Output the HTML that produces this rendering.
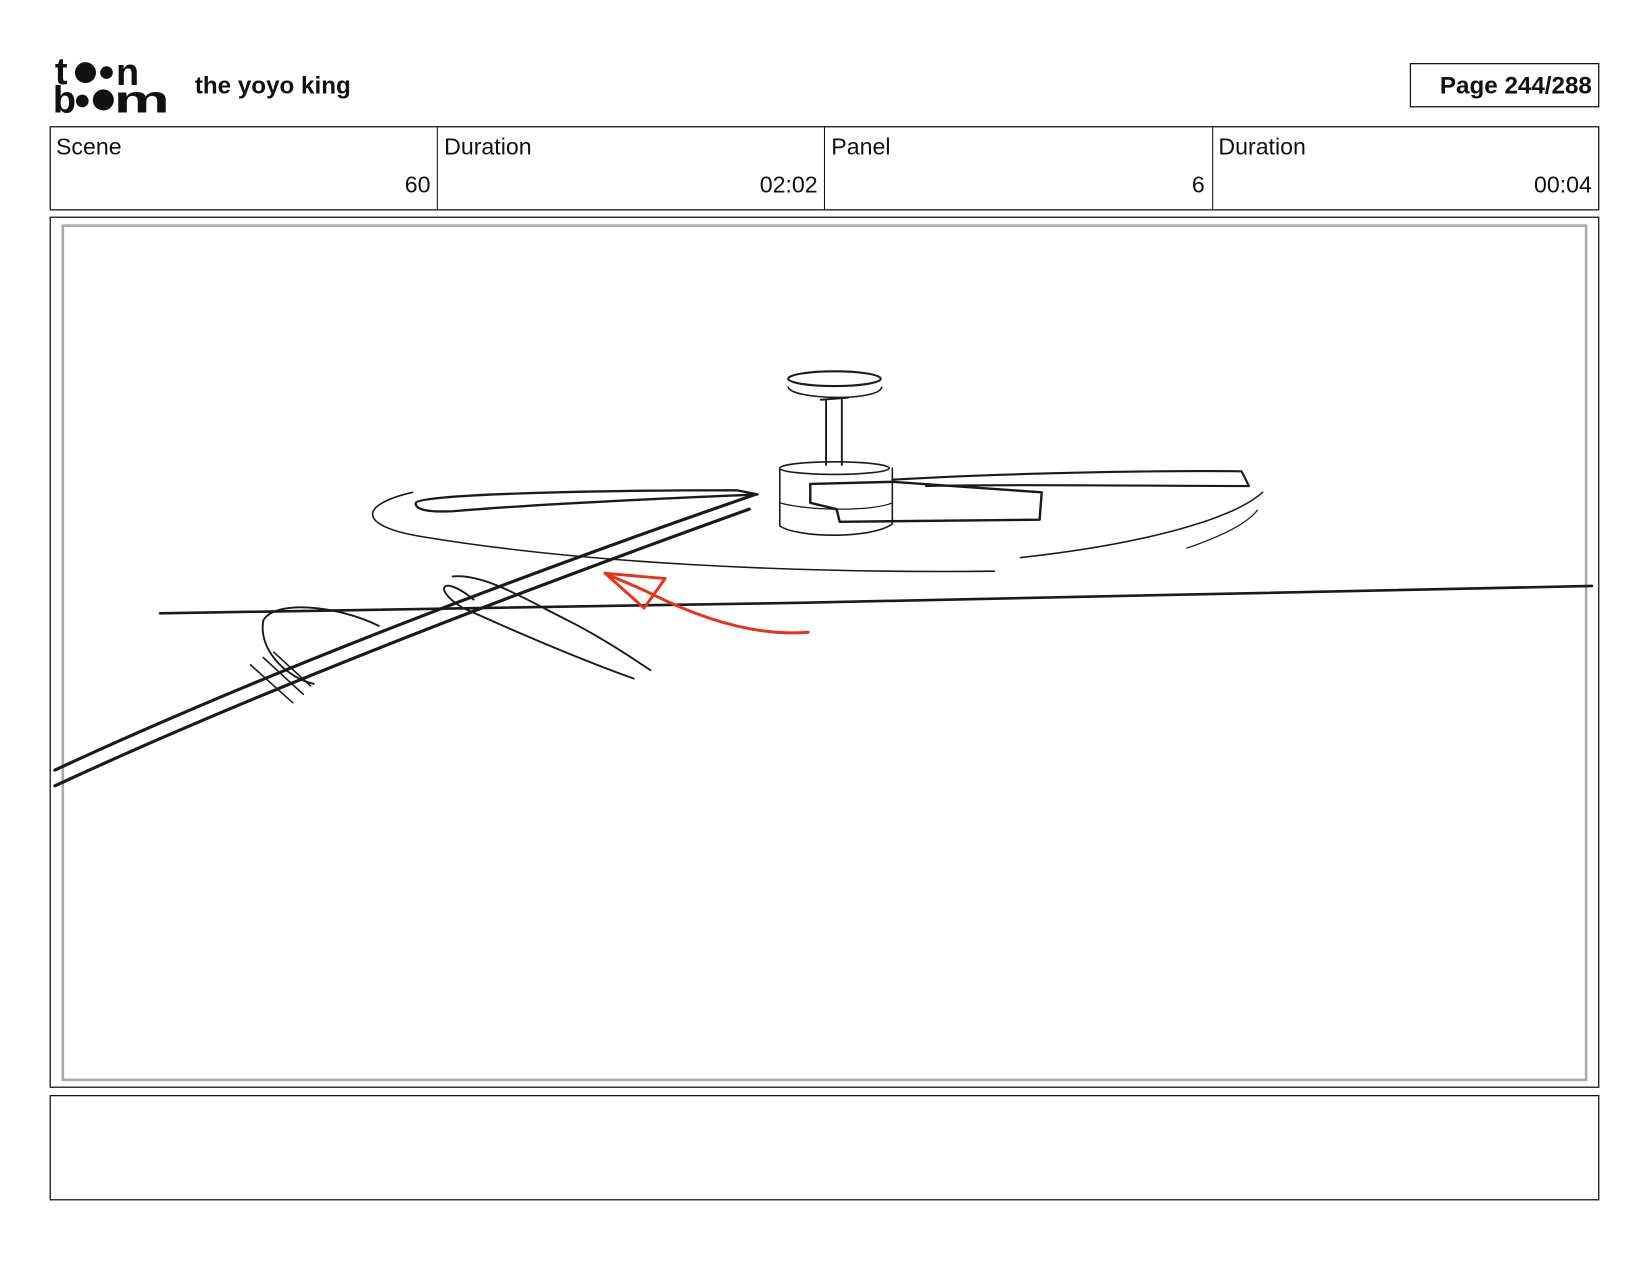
<!DOCTYPE html>
<html><head><meta charset="utf-8"><style>
html,body{margin:0;padding:0;background:#fff;}
svg{display:block}
text{font-family:"Liberation Sans",sans-serif;fill:#111}
</style></head><body>
<svg width="1650" height="1275" viewBox="0 0 1568 1212" xmlns="http://www.w3.org/2000/svg">
<rect width="1568" height="1212" fill="#fff"/>
<!-- logo -->
<g fill="#111">
<text x="52" y="80" font-size="36" font-weight="bold">t</text>
<circle cx="81" cy="69" r="10"/><circle cx="101" cy="69" r="6"/>
<text x="110" y="81" font-size="36" font-weight="bold">n</text>
<text x="50" y="107" font-size="36" font-weight="bold">b</text>
<circle cx="78" cy="96" r="6"/><circle cx="98" cy="95" r="10"/>
<text x="108" y="107" font-size="36" font-weight="bold" textLength="53" lengthAdjust="spacingAndGlyphs">m</text>
</g>
<text x="185" y="89" font-size="23" font-weight="bold">the yoyo king</text>
<rect x="1340.5" y="60.5" width="179" height="41" fill="none" stroke="#111" stroke-width="1.2"/>
<text x="1513" y="89" font-size="23" font-weight="bold" text-anchor="end">Page 244/288</text>
<!-- header table -->
<rect x="47.5" y="120.5" width="1472" height="79" fill="none" stroke="#111" stroke-width="1.2"/>
<line x1="415.5" y1="120" x2="415.5" y2="200" stroke="#111"/>
<line x1="783.5" y1="120" x2="783.5" y2="200" stroke="#111"/>
<line x1="1152.5" y1="120" x2="1152.5" y2="200" stroke="#111"/>
<g font-size="22">
<text x="53" y="147">Scene</text><text x="409" y="183" text-anchor="end">60</text>
<text x="422" y="147">Duration</text><text x="777" y="183" text-anchor="end">02:02</text>
<text x="790" y="147">Panel</text><text x="1145" y="183" text-anchor="end">6</text>
<text x="1158" y="147">Duration</text><text x="1513" y="183" text-anchor="end">00:04</text>
</g>
<!-- panel -->
<rect x="47.5" y="206.5" width="1472" height="827" fill="none" stroke="#111" stroke-width="1.2"/>
<rect x="59.5" y="214.5" width="1448" height="812" fill="none" stroke="#aaa" stroke-width="2.5"/>
<rect x="47.5" y="1041.5" width="1472" height="99" fill="none" stroke="#111" stroke-width="1.2"/>
<!-- sketch -->
<g fill="none" stroke="#1a1a1a" stroke-linecap="round" stroke-linejoin="round">
<path d="M152 583 L760 573 L1513 557" stroke-width="2.5"/>
<path d="M52 732 C250 640 500 545 718 470" stroke-width="3"/>
<path d="M52 747 C250 655 500 560 712 484" stroke-width="3"/>
<ellipse cx="793" cy="360" rx="44" ry="7" stroke-width="2"/>
<path d="M749 368 C752 380 835 382 838 368" stroke-width="1.5"/>
<path d="M785 380 L785 442 M800 380 L800 442 M780 380 L806 378" stroke-width="1.8"/>
<ellipse cx="793" cy="445" rx="52" ry="6" stroke-width="1.5"/>
<path d="M741 445 L741 500 C760 512 830 512 848 498 L848 445" stroke-width="1.5"/>
<path d="M741 478 C770 486 830 486 848 478" stroke-width="1.2"/>
<path d="M395 478 C397 470 560 466 700 466 L720 470 C600 475 500 480 430 486 C405 487 394 484 395 478 Z" stroke-width="2.2"/>
<path d="M848 456 C950 450 1100 447 1180 448 L1187 462 C1080 462 960 460 880 462" stroke-width="2"/>
<path d="M770 460 L848 458 L990 468 L988 494 L798 496 L795 484 L770 478 Z" stroke-width="2.3"/>
<path d="M392 468 C340 480 340 500 400 510 C550 535 750 545 945 543" stroke-width="1.5"/>
<path d="M970 530 C1080 518 1170 495 1200 468" stroke-width="1.5"/>
<path d="M1128 521 C1160 510 1185 498 1195 485" stroke-width="1.2"/>
<path d="M360 595 C320 575 260 570 250 590 C245 620 275 645 298 650" stroke-width="1.8"/>
<path d="M238 632 L278 668 M250 625 L288 660 M260 620 L295 652" stroke-width="1.5"/>
<path d="M450 570 C420 545 410 560 440 578 C500 605 560 630 602 645" stroke-width="1.8"/>
<path d="M430 548 C460 545 500 570 540 590 C570 605 600 625 618 637" stroke-width="1.8"/>
</g>
<g fill="none" stroke="#e8321c" stroke-width="2.8" stroke-linecap="round" stroke-linejoin="round">
<path d="M768 601 C720 605 670 590 620 565 C600 555 585 550 575 545"/>
<path d="M575 545 L632 550 L612 578 Z"/>
</g>
</svg>
</body></html>
